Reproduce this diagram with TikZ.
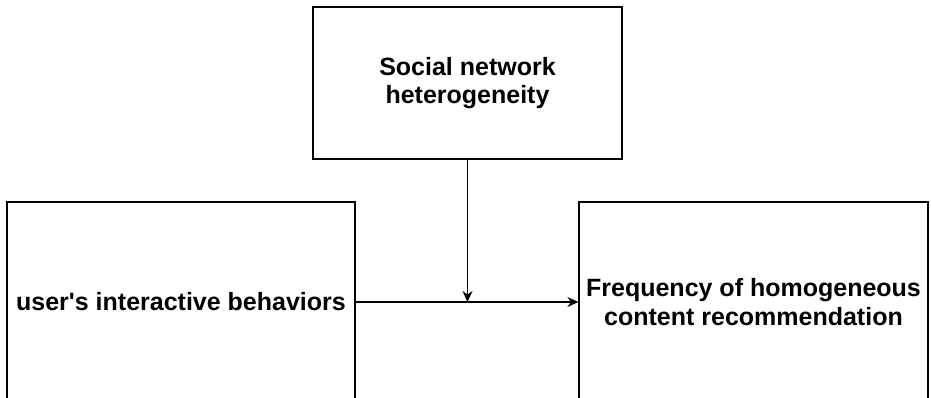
\documentclass[tikz,border=0pt]{standalone}
\usepackage{fontspec}
\setmainfont{Liberation Sans}
\usetikzlibrary{arrows.meta}

\tikzset{
  factor/.style = {draw, line width = 1.2pt, align = center,
    font = \fontsize{25}{28.5}\selectfont\bfseries, inner sep = 0pt},
  link/.style = {line width = 1.2pt, -{Stealth[length = 11pt, width = 10pt]}}
}

\begin{document}
\begin{tikzpicture}[x = 1pt, y = -1pt]
    \useasboundingbox (0, 0) rectangle (931, 397);
    \node [factor, minimum width = 309pt, minimum height = 152pt] (social) at (467.5, 83) {Social network\\heterogeneity};
    \node [factor, minimum width = 348pt, minimum height = 200pt] (behavior) at (181, 302) {user\textquotesingle s interactive behaviors};
    \node [factor, minimum width = 349pt, minimum height = 200pt] (frequency) at (753.5, 302) {Frequency of homogeneous\\content recommendation};
    \coordinate (meet) at (social.south |- behavior.east);
    \draw [link] (behavior) -- (frequency);
    \draw [link] (social) -- (meet);
  \end{tikzpicture}
\end{document}
